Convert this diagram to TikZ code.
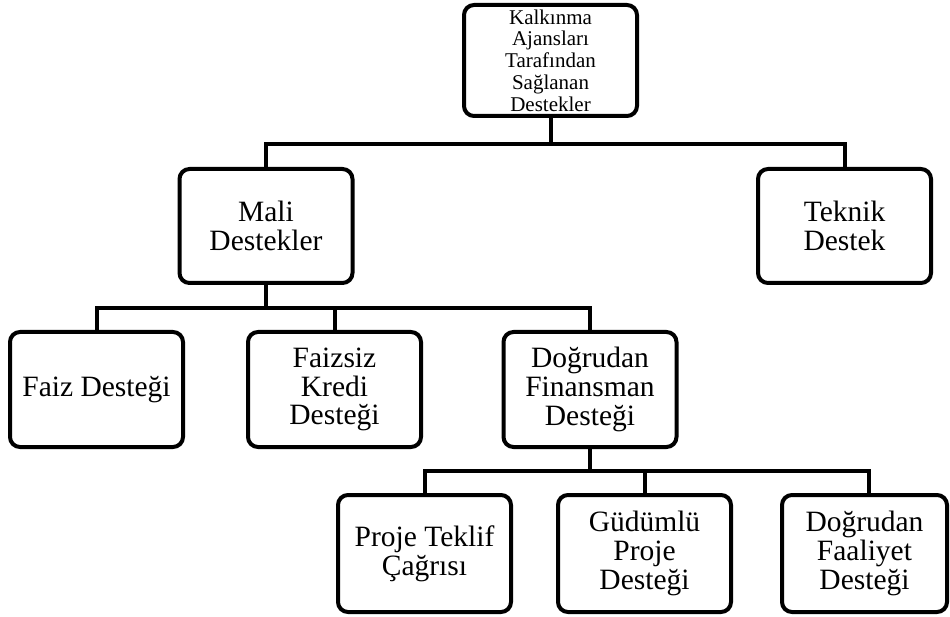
\documentclass[tikz,border=0pt]{standalone}
\usepackage{fontspec}
\setmainfont{Liberation Serif}
\begin{document}
\begin{tikzpicture}[x=1pt,y=-1pt,
  box/.style={draw=black, line width=4pt, rounded corners=10pt, fill=white,
    minimum width=173pt, minimum height=114pt, inner sep=0pt, align=center,
    font=\fontsize{29.5}{28.7}\selectfont},
  conn/.style={draw=black, line width=4pt}]
\fill[white] (0,0) rectangle (950,617);
\useasboundingbox (0,0) rectangle (950,617);

\node[box, minimum height=111pt, font=\fontsize{21}{21.7}\selectfont] (top) at (550.5,60.5)
  {Kalkınma\\Ajansları\\Tarafından\\Sağlanan\\Destekler};
\node[box] (mali) at (266,226) {Mali\\Destekler};
\node[box] (teknik) at (844.5,226) {Teknik\\Destek};
\node[box, minimum height=115pt] (faiz) at (96.5,389.5) {Faiz Desteği};
\node[box, minimum height=115pt] (faizsiz) at (334.5,389.5) {Faizsiz\\Kredi\\Desteği};
\node[box, minimum height=115pt] (df) at (590,389.5) {Doğrudan\\Finansman\\Desteği};
\node[box, minimum height=117pt] (proje) at (424.5,553.5) {Proje Teklif\\Çağrısı};
\node[box, minimum height=117pt] (gud) at (644.5,553.5) {Güdümlü\\Proje\\Desteği};
\node[box, minimum height=117pt, minimum width=165pt] (dfaal) at (864.5,553.5) {Doğrudan\\Faaliyet\\Desteği};

\coordinate (b1) at (550.5,144);
\coordinate (b2) at (266,308);
\coordinate (b3) at (590,471);

\draw[conn] (top.south) -- (top.south |- b1);
\draw[conn] (mali.north) -- (mali.north |- b1) -- (teknik.north |- b1) -- (teknik.north);

\draw[conn] (mali.south) -- (mali.south |- b2);
\draw[conn] (faiz.north) -- (faiz.north |- b2) -- (df.north |- b2) -- (df.north);
\draw[conn] (faizsiz.north) -- (faizsiz.north |- b2);

\draw[conn] (df.south) -- (df.south |- b3);
\draw[conn] (proje.north) -- (proje.north |- b3) -- ([xshift=4.5pt]dfaal.north |- b3) -- ([xshift=4.5pt]dfaal.north);
\draw[conn] (gud.north) -- (gud.north |- b3);
\end{tikzpicture}
\end{document}
